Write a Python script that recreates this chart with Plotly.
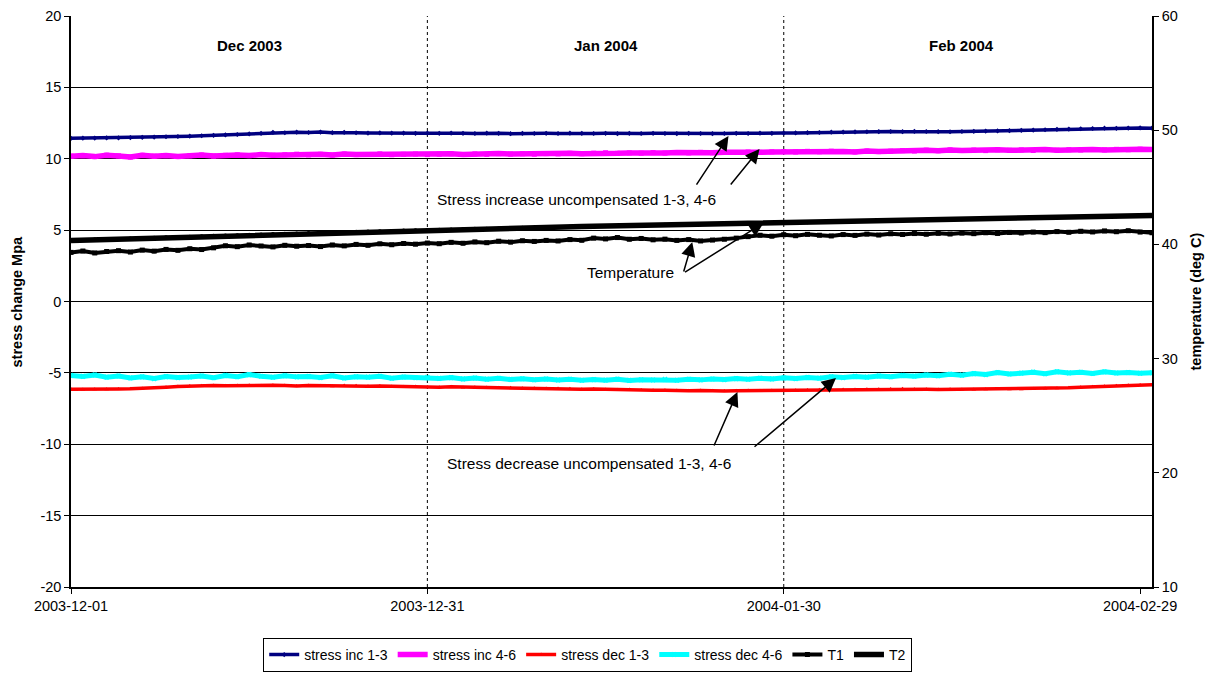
import pandas as pd
import plotly.graph_objects as go

# ---------------- data ----------------
start_date = "2003-12-01"
n_days = 92
dates = pd.date_range(start_date, periods=n_days, freq="D")

stress_inc_13 = [
    11.43, 11.44, 11.45, 11.46, 11.46, 11.48, 11.50, 11.52, 11.54, 11.56,
    11.58, 11.61, 11.64, 11.67, 11.70, 11.74, 11.78, 11.85, 11.82, 11.86,
    11.84, 11.87, 11.83, 11.85, 11.82, 11.80, 11.81, 11.79, 11.80, 11.78,
    11.79, 11.78, 11.80, 11.78, 11.77, 11.79, 11.78, 11.76, 11.78, 11.77,
    11.78, 11.77, 11.79, 11.78, 11.77, 11.78, 11.76, 11.78, 11.77, 11.78,
    11.77, 11.76, 11.78, 11.77, 11.76, 11.77, 11.78, 11.77, 11.79, 11.78,
    11.80, 11.81, 11.83, 11.84, 11.86, 11.87, 11.88, 11.89, 11.90, 11.91,
    11.90, 11.92, 11.91, 11.90, 11.89, 11.91, 11.92, 11.94, 11.95, 11.97,
    11.99, 12.01, 12.03, 12.06, 12.08, 12.10, 12.12, 12.14, 12.13, 12.15,
    12.16, 12.14,
]
stress_inc_46 = [
    10.18, 10.22, 10.15, 10.25, 10.20, 10.12, 10.24, 10.18, 10.22, 10.16,
    10.21, 10.26, 10.19, 10.24, 10.27, 10.22, 10.30, 10.25, 10.28, 10.32,
    10.27, 10.31, 10.26, 10.33, 10.29, 10.30, 10.34, 10.28, 10.31, 10.33,
    10.29, 10.32, 10.35, 10.30, 10.34, 10.31, 10.36, 10.33, 10.35, 10.32,
    10.36, 10.34, 10.38, 10.35, 10.39, 10.42, 10.38, 10.41, 10.39, 10.43,
    10.40, 10.44, 10.41, 10.45, 10.42, 10.46, 10.44, 10.47, 10.45, 10.48,
    10.50, 10.47, 10.52, 10.49, 10.53, 10.51, 10.48, 10.54, 10.50, 10.53,
    10.57, 10.54, 10.60, 10.56, 10.62, 10.58, 10.61, 10.57, 10.63, 10.59,
    10.62, 10.58, 10.64, 10.60, 10.63, 10.61, 10.65, 10.62, 10.66, 10.63,
    10.67, 10.65,
]
stress_dec_13 = [
    -6.15, -6.16, -6.14, -6.15, -6.13, -6.12, -6.10, -6.06, -6.00, -5.95,
    -5.92, -5.90, -5.88, -5.91, -5.89, -5.87, -5.90, -5.86, -5.89, -5.92,
    -5.88, -5.90, -5.93, -5.89, -5.91, -5.94, -5.92, -5.95, -5.97, -5.96,
    -5.99, -6.01, -5.98, -6.02, -6.00, -6.03, -6.05, -6.04, -6.07, -6.08,
    -6.10, -6.09, -6.12, -6.14, -6.13, -6.16, -6.18, -6.17, -6.20, -6.22,
    -6.21, -6.24, -6.25, -6.23, -6.26, -6.27, -6.25, -6.24, -6.26, -6.23,
    -6.22, -6.21, -6.20, -6.18, -6.19, -6.17, -6.16, -6.14, -6.15, -6.13,
    -6.12, -6.14, -6.15, -6.16, -6.15, -6.17, -6.16, -6.14, -6.13, -6.15,
    -6.14, -6.12, -6.10, -6.08, -6.05, -6.01, -5.97, -5.93, -5.90, -5.87,
    -5.85, -5.83,
]
stress_dec_46 = [
    -5.18, -5.25, -5.15, -5.30, -5.22, -5.35, -5.28, -5.40, -5.26, -5.33,
    -5.29, -5.22, -5.34, -5.18, -5.27, -5.12, -5.24, -5.31, -5.20, -5.28,
    -5.25, -5.33, -5.21, -5.36, -5.27, -5.30, -5.24, -5.38, -5.29, -5.34,
    -5.31, -5.39, -5.33, -5.42, -5.36, -5.44, -5.38, -5.46, -5.41, -5.48,
    -5.43, -5.50, -5.45, -5.52, -5.47, -5.51, -5.44, -5.53, -5.48, -5.50,
    -5.46, -5.52, -5.45, -5.49, -5.43, -5.47, -5.40, -5.45, -5.38, -5.42,
    -5.35, -5.40, -5.32, -5.37, -5.28, -5.33, -5.25, -5.30, -5.22, -5.27,
    -5.18, -5.23, -5.15, -5.20, -5.10, -5.16, -5.05, -5.12, -4.98, -5.08,
    -5.02, -4.95, -5.06, -4.92, -5.00, -4.96, -5.04, -4.93, -5.01, -4.97,
    -5.03, -4.99,
]
T1 = [
    39.30, 39.42, 39.25, 39.38, 39.45, 39.33, 39.50, 39.41, 39.56, 39.48,
    39.62, 39.55, 39.70, 39.88, 39.80, 39.95, 39.86, 39.78, 39.92, 39.84,
    39.90, 39.81, 39.95, 39.87, 40.00, 39.92, 40.05, 39.97, 40.08, 40.02,
    40.12, 40.06, 40.18, 40.10, 40.22, 40.15, 40.28, 40.20, 40.32, 40.26,
    40.35, 40.30, 40.42, 40.36, 40.55, 40.48, 40.60, 40.45, 40.52, 40.40,
    40.46, 40.35, 40.42, 40.30, 40.38, 40.45, 40.55, 40.68, 40.80, 40.72,
    40.85, 40.76, 40.88, 40.80, 40.74, 40.86, 40.79, 40.90, 40.82, 40.93,
    40.87, 40.95, 40.89, 40.97, 40.91, 40.99, 40.94, 41.02, 40.96, 41.05,
    41.00, 41.08, 41.03, 41.12, 41.06, 41.15, 41.09, 41.18, 41.11, 41.20,
    41.08, 41.02,
]
T2 = [
    40.35, 40.38, 40.42, 40.45, 40.48, 40.52, 40.55, 40.58, 40.62, 40.65,
    40.68, 40.71, 40.75, 40.78, 40.81, 40.84, 40.87, 40.90, 40.93, 40.96,
    40.99, 41.02, 41.05, 41.08, 41.10, 41.13, 41.16, 41.18, 41.21, 41.23,
    41.26, 41.28, 41.31, 41.33, 41.36, 41.38, 41.40, 41.43, 41.45, 41.47,
    41.50, 41.52, 41.54, 41.56, 41.58, 41.61, 41.63, 41.65, 41.67, 41.69,
    41.71, 41.73, 41.75, 41.77, 41.79, 41.81, 41.83, 41.85, 41.87, 41.89,
    41.91, 41.93, 41.95, 41.97, 41.99, 42.01, 42.03, 42.05, 42.07, 42.09,
    42.11, 42.13, 42.15, 42.17, 42.19, 42.21, 42.23, 42.25, 42.27, 42.29,
    42.31, 42.33, 42.35, 42.37, 42.39, 42.41, 42.43, 42.45, 42.47, 42.49,
    42.51, 42.53,
]

x_ticks = ["2003-12-01", "2003-12-31", "2004-01-30", "2004-02-29"]
x_grid_dates = ["2003-12-31", "2004-01-30"]
x_range = ["2003-12-01", "2004-03-01"]
y_ticks = [-20, -15, -10, -5, 0, 5, 10, 15, 20]
y_ticktext = ["-20", "-15", "-10", "-5", "0", "5", "10", "15", "20"]
y2_ticks = [10, 20, 30, 40, 50, 60]
month_labels = ["Dec 2003", "Jan 2004", "Feb 2004"]
month_label_dates = ["2003-12-16", "2004-01-15", "2004-02-14"]

FONT = "Liberation Sans, Arial, sans-serif"

fig = go.Figure()

series = [
    ("stress inc 1-3", stress_inc_13, "#000080", 3.5, "diamond", 4, "y"),
    ("stress inc 4-6", stress_inc_46, "#FF00FF", 5.5, "square", 5, "y"),
    ("stress dec 1-3", stress_dec_13, "#FF0000", 3.5, "triangle-up", 4, "y"),
    ("stress dec 4-6", stress_dec_46, "#00FFFF", 5, "x", 5, "y"),
    ("T1", T1, "#000000", 4, "square", 5, "y2"),
    ("T2", T2, "#000000", 5.5, "circle", 4, "y2"),
]
for name, vals, col, lw, sym, ms, yax in series:
    fig.add_trace(go.Scatter(
        x=dates, y=vals, name=name, yaxis=yax, mode="lines+markers",
        line=dict(color=col, width=lw),
        marker=dict(color=col, symbol=sym, size=ms, line=dict(width=0)),
    ))

# dotted vertical gridlines at month boundaries
for d in x_grid_dates:
    fig.add_shape(type="line", xref="x", yref="paper", x0=d, x1=d, y0=0, y1=1,
                  line=dict(color="black", width=1, dash="dot"), layer="below")

ann = []
for lab, d in zip(month_labels, month_label_dates):
    ann.append(dict(x=d, y=0.949, xref="x", yref="paper", text=f"<b>{lab}</b>",
                    xanchor="center", yanchor="middle",
                    showarrow=False, font=dict(size=15, color="black", family=FONT)))

txt_font = dict(size=15.5, color="black", family=FONT)
title_font = dict(size=14.5, color="black", family=FONT)
ann += [
    dict(x=0.468, y=0.6795, xref="paper", yref="paper", showarrow=False,
         xanchor="center", yanchor="middle",
         text="Stress increase uncompensated 1-3, 4-6", font=txt_font),
    dict(x=0.518, y=0.55, xref="paper", yref="paper", showarrow=False,
         xanchor="center", yanchor="middle",
         text="Temperature", font=txt_font),
    dict(x=0.479, y=0.217, xref="paper", yref="paper", showarrow=False,
         xanchor="center", yanchor="middle",
         text="Stress decrease uncompensated 1-3, 4-6", font=txt_font),
    dict(x=-0.05, y=0.5, xref="paper", yref="paper", showarrow=False, textangle=-90,
         xanchor="center", yanchor="middle",
         text="<b>stress change Mpa</b>", font=title_font),
    dict(x=1.0407, y=0.5, xref="paper", yref="paper", showarrow=False, textangle=-90,
         xanchor="center", yanchor="middle",
         text="<b>temperature (deg C)</b>", font=title_font),
]

arrows = [
    ("2004-01-25 08:24", 11.59, -33, 50),
    ("2004-01-27 23:02", 10.68, -30, 37),
    ("2004-01-22 07:12", 4.17, -9, 31),
    ("2004-01-28 07:12", 5.50, -80, 50),
    ("2004-01-26 02:24", -6.34, -24, 55),
    ("2004-02-03 09:36", -5.36, -83, 70),
]
for xd, yv, ax, ay in arrows:
    ann.append(dict(x=xd, y=yv, xref="x", yref="y", ax=ax, ay=ay, axref="pixel", ayref="pixel",
                    text="", showarrow=True, arrowhead=2, arrowsize=1.9, arrowwidth=1.5,
                    arrowcolor="black", standoff=0))

tick_font = dict(size=14.5, family=FONT, color="black")
fig.update_layout(
    width=1213, height=675, autosize=False,
    paper_bgcolor="white", plot_bgcolor="white",
    margin=dict(l=63, r=69, t=8, b=96, autoexpand=False),
    font=dict(family=FONT, size=14, color="black"),
    showlegend=True,
    legend=dict(orientation="h", x=0.478, xanchor="center", y=-0.119, yanchor="middle",
                bgcolor="white", bordercolor="black", borderwidth=1,
                font=dict(size=14, family=FONT, color="black"),
                itemwidth=30, tracegroupgap=0),
    annotations=ann,
    xaxis=dict(type="date", range=x_range, tickvals=x_ticks, ticktext=x_ticks,
               showgrid=False, zeroline=False, showline=True, linecolor="black", linewidth=2,
               ticks="outside", ticklen=5, tickcolor="black", automargin=False,
               tickfont=tick_font),
    yaxis=dict(range=[-20, 20], tickvals=y_ticks, ticktext=y_ticktext,
               showgrid=True, gridcolor="black", gridwidth=1,
               zeroline=False, showline=True, linecolor="black", linewidth=1.5,
               ticks="outside", ticklen=5, tickcolor="black", automargin=False,
               tickfont=tick_font),
    yaxis2=dict(range=[10, 60], tickvals=y2_ticks, overlaying="y", side="right",
                showgrid=False, zeroline=False, showline=True, linecolor="black", linewidth=1.5,
                ticks="outside", ticklen=5, tickcolor="black", automargin=False,
                tickfont=tick_font),
)

fig.write_html("out.html")
